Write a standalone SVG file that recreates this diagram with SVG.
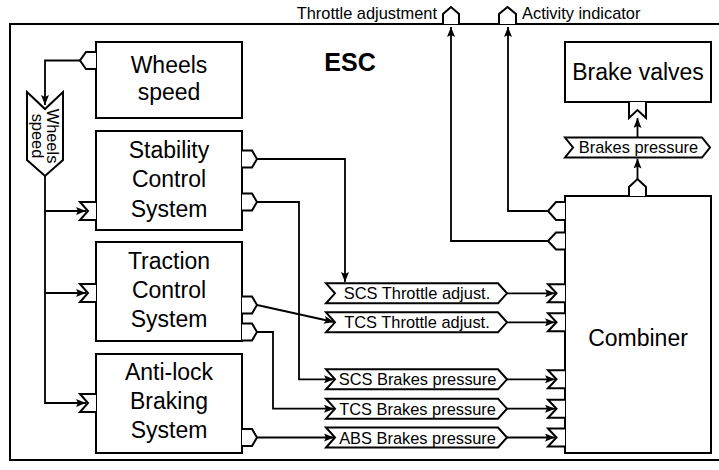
<svg xmlns="http://www.w3.org/2000/svg" width="719" height="470" viewBox="0 0 719 470">
<style>
.box{fill:#fff;stroke:#000;stroke-width:2}
.port{fill:#fff;stroke:#000;stroke-width:2;stroke-linejoin:miter}
.ln{fill:none;stroke:#000;stroke-width:1.8}
.big{font-family:"Liberation Sans",Arial,sans-serif;font-size:23px;fill:#000;text-anchor:middle}
.sm{font-family:"Liberation Sans",Arial,sans-serif;font-size:16.4px;fill:#000}
.mid{text-anchor:middle}
</style>
<defs>
<marker id="arr" viewBox="0 0 10 8" refX="10" refY="4" markerWidth="10" markerHeight="8" markerUnits="userSpaceOnUse" orient="auto">
<path d="M0,0 L10,4 L0,8 L2,4 z" fill="#000"/>
</marker>
</defs>
<rect width="719" height="470" fill="#fff"/>
<g id="esc">
<rect x="10" y="24" width="720" height="436" fill="none" stroke="#000" stroke-width="2"/>
<text x="350" y="70.7" font-family="Liberation Sans,Arial,sans-serif" font-size="25" font-weight="bold" text-anchor="middle">ESC</text>
</g>
<g id="throttle-out">
<path class="port" d="M443,24 V14 L451,7 L459,14 V24"/>
<text class="sm" x="437" y="19" text-anchor="end">Throttle adjustment</text>
</g>
<g id="activity-out">
<path class="port" d="M499,24 V14 L507.5,7 L516,14 V24"/>
<text class="sm" x="522" y="19">Activity indicator</text>
</g>
<g id="wheels">
<rect class="box" x="96" y="42" width="146" height="76"/>
<path class="port" d="M96,52 H86 L80,60.5 L86,69 H96"/>
<text class="big" x="169" y="72.5">Wheels</text>
<text class="big" x="169" y="100">speed</text>
</g>
<g id="wheels-signal">
<path class="port" d="M27,92 L45,109 L63,92 V160 L45,176 L27,160 Z"/>
<text class="sm mid" transform="translate(47,136) rotate(90)">Wheels</text>
<text class="sm mid" transform="translate(31.5,136) rotate(90)">speed</text>
</g>
<g id="scs">
<rect class="box" x="96" y="131" width="146" height="99"/>
<path class="port" d="M96,202 H80 L88,211 L80,220 H96"/>
<path class="port" d="M242,150.5 H252 L257,159 L252,167.5 H242"/>
<path class="port" d="M242,193.5 H252 L257,202 L252,210.5 H242"/>
<text class="big" x="169" y="158.3">Stability</text>
<text class="big" x="169" y="187.3">Control</text>
<text class="big" x="169" y="216.5">System</text>
</g>
<g id="tcs">
<rect class="box" x="96" y="242" width="146" height="99"/>
<path class="port" d="M96,284 H80 L88,293 L80,302 H96"/>
<path class="port" d="M242,296.5 H252 L257,305 L252,313.5 H242"/>
<path class="port" d="M242,323.5 H252 L257,332 L252,340.5 H242"/>
<text class="big" x="169" y="269.3">Traction</text>
<text class="big" x="169" y="298.3">Control</text>
<text class="big" x="169" y="327.3">System</text>
</g>
<g id="abs">
<rect class="box" x="96" y="354" width="146" height="99"/>
<path class="port" d="M96,394 H80 L88,403 L80,412 H96"/>
<path class="port" d="M242,429 H252 L257,437.5 L252,446 H242"/>
<text class="big" x="169" y="380">Anti-lock</text>
<text class="big" x="169" y="409.3">Braking</text>
<text class="big" x="169" y="438.3">System</text>
</g>
<g id="scs-throttle">
<path class="port" d="M326,283.3 H498 L507,293.3 L498,303.3 H326 L335,293.3 Z"/>
<text class="sm mid" x="417" y="299.3">SCS Throttle adjust.</text>
</g>
<g id="tcs-throttle">
<path class="port" d="M326,312.3 H498 L507,322.3 L498,332.3 H326 L335,322.3 Z"/>
<text class="sm mid" x="417" y="328.3">TCS Throttle adjust.</text>
</g>
<g id="scs-brakes">
<path class="port" d="M326,369.3 H498 L507,379.3 L498,389.3 H326 L335,379.3 Z"/>
<text class="sm mid" x="417.5" y="385.3">SCS Brakes pressure</text>
</g>
<g id="tcs-brakes">
<path class="port" d="M326,398.7 H498 L507,408.7 L498,418.7 H326 L335,408.7 Z"/>
<text class="sm mid" x="417.5" y="414.7">TCS Brakes pressure</text>
</g>
<g id="abs-brakes">
<path class="port" d="M326,427.5 H498 L507,437.5 L498,447.5 H326 L335,437.5 Z"/>
<text class="sm mid" x="417.5" y="443.5">ABS Brakes pressure</text>
</g>
<g id="combiner">
<rect class="box" x="565" y="196" width="146" height="257"/>
<path class="port" d="M565,202 H556 L548,211 L556,220 H565"/>
<path class="port" d="M565,232.5 H556 L548,241 L556,249.5 H565"/>
<path class="port" d="M629,196 V187 L637.5,179 L646,187 V196"/>
<path class="port" d="M565,284.3 H548 L556.5,293.3 L548,302.3 H565"/>
<path class="port" d="M565,313.3 H548 L556.5,322.3 L548,331.3 H565"/>
<path class="port" d="M565,370.3 H548 L556.5,379.3 L548,388.3 H565"/>
<path class="port" d="M565,399.7 H548 L556.5,408.7 L548,417.7 H565"/>
<path class="port" d="M565,428.5 H548 L556.5,437.5 L548,446.5 H565"/>
<text class="big" x="638" y="345.7">Combiner</text>
</g>
<g id="brakes-pressure">
<path class="port" d="M565,137.5 H702 L710,147.5 L702,157.5 H565 L573,147.5 Z"/>
<text class="sm mid" x="638.5" y="153.3">Brakes pressure</text>
</g>
<g id="brake-valves">
<rect class="box" x="565" y="42" width="146" height="60"/>
<path class="port" d="M629,102 V118 L637.5,110 L646,118 V102"/>
<text class="big" x="638" y="80">Brake valves</text>
</g>
<g id="connectors">
<path class="ln" d="M80,60.5 H45 V105" marker-end="url(#arr)"/>
<path class="ln" d="M45,176 V403 H86" marker-end="url(#arr)"/>
<path class="ln" d="M45,211 H86" marker-end="url(#arr)"/>
<path class="ln" d="M45,293 H86" marker-end="url(#arr)"/>
<path class="ln" d="M257,159 H345 V282" marker-end="url(#arr)"/>
<path class="ln" d="M257,202 H299 V379.3 H334" marker-end="url(#arr)"/>
<path class="ln" d="M257,305 L334,322" marker-end="url(#arr)"/>
<path class="ln" d="M257,332 H273 V408.7 H334" marker-end="url(#arr)"/>
<path class="ln" d="M257,437.5 H334" marker-end="url(#arr)"/>
<path class="ln" d="M507,293.3 H555" marker-end="url(#arr)"/>
<path class="ln" d="M507,322.3 H555" marker-end="url(#arr)"/>
<path class="ln" d="M507,379.3 H555" marker-end="url(#arr)"/>
<path class="ln" d="M507,408.7 H555" marker-end="url(#arr)"/>
<path class="ln" d="M507,437.5 H555" marker-end="url(#arr)"/>
<path class="ln" d="M637.5,179 V158.5" marker-end="url(#arr)"/>
<path class="ln" d="M637.5,137.5 V118" marker-end="url(#arr)"/>
<path class="ln" d="M548,211 H508 V27" marker-end="url(#arr)"/>
<path class="ln" d="M548,241 H451 V27" marker-end="url(#arr)"/>
</g>
</svg>
